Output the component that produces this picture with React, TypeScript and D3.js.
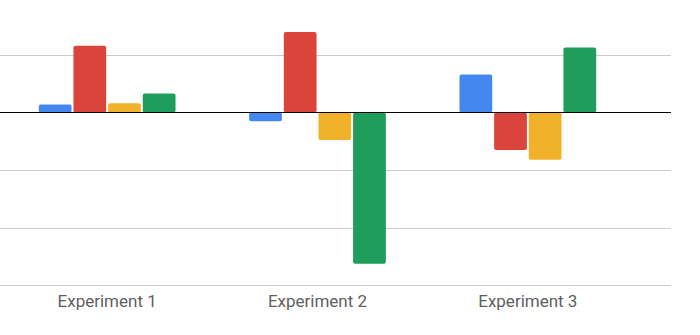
import React from "react";
import * as d3 from "d3";

const categories = ["Experiment 1", "Experiment 2", "Experiment 3"];
const seriesNames = ["Series A", "Series B", "Series C", "Series D"];
const seriesColors = ["#4587f1", "#da443a", "#f1b12a", "#1f9d5a"];
const valuesA = [0.14, -0.15, 0.66];
const valuesB = [1.16, 1.4, -0.65];
const valuesC = [0.16, -0.48, -0.82];
const valuesD = [0.33, -2.63, 1.13];
const gridTicks = [-3, -2, -1, 0, 1];

const W = 700;
const H = 335;

export default function App() {
  const series = [valuesA, valuesB, valuesC, valuesD];
  const x = d3.scaleBand<string>().domain(categories).range([2, 633]).paddingInner(0.35).paddingOuter(0.175);
  const xs = d3.scaleBand<string>().domain(seriesNames).range([0, x.bandwidth()]).paddingInner(0.055);
  const y = d3.scaleLinear().domain([-3, 1]).range([285, 55]);
  const gridLeft = 0;
  const gridRight = 671;
  const r = 2;

  return (
    <svg width={W} height={H} style={{ position: "absolute", left: 0, top: 0, background: "#fff" }}>
      {gridTicks.filter((t) => t !== 0).map((t) => (
        <line key={t} x1={gridLeft} x2={gridRight} y1={Math.round(y(t)) + 0.5} y2={Math.round(y(t)) + 0.5} stroke="#cccccc" strokeWidth={1} />
      ))}
      {categories.map((c, ci) =>
        series.map((vals, si) => {
          const v = vals[ci];
          const x0 = (x(c) ?? 0) + (xs(seriesNames[si]) ?? 0);
          const top = Math.min(y(v), y(0));
          const h = Math.abs(y(v) - y(0));
          return (
            <rect
              key={c + si}
              x={x0}
              y={top}
              width={xs.bandwidth()}
              height={h}
              rx={r}
              ry={r}
              fill={seriesColors[si]}
            />
          );
        })
      )}
      <line x1={gridLeft} x2={gridRight} y1={y(0)} y2={y(0)} stroke="#000" strokeWidth={1.2} />
      {categories.map((c) => (
        <text
          key={c}
          x={(x(c) ?? 0) + x.bandwidth() / 2}
          y={307}
          textAnchor="middle"
          fontFamily="Roboto, sans-serif"
          fontSize={17}
          fill="#5f5f5f"
        >
          {c}
        </text>
      ))}
    </svg>
  );
}
